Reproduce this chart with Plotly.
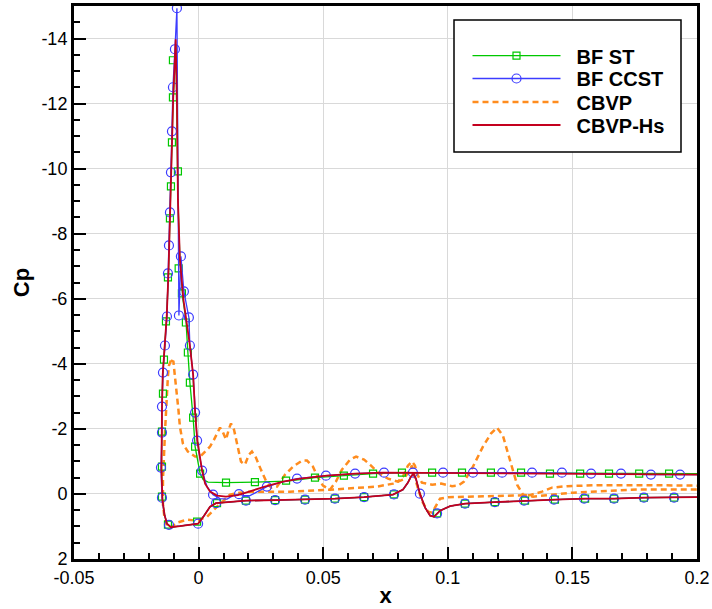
import plotly.graph_objects as go

# ---------------- data: (x, Cp) ----------------
# BF ST (green, squares)
st_line = [(0.2000,-0.625),(0.0816,-0.655),(0.0700,-0.625),(0.0583,-0.563),(0.0467,-0.502),(0.0407,-0.440),
           (0.0351,-0.394),(0.0226,-0.363),(0.0110,-0.348),(0.0038,-0.363),(0.0018,-0.440),(0.0006,-0.625),
           (-0.0014,-1.455),(-0.0022,-2.348),(-0.0035,-3.425),(-0.0043,-4.348),(-0.0051,-5.363),(-0.0063,-5.978),
           (-0.0075,-7.209),(-0.0083,-9.055),(-0.0087,-12.132),(-0.0091,-13.825),(-0.0102,-12.132),(-0.0109,-9.978),
           (-0.0115,-8.655),(-0.0121,-6.778),(-0.0128,-5.455),(-0.0137,-4.440),(-0.0144,-3.671),(-0.0147,-2.594),
           (-0.0149,-1.671),(-0.0149,-0.748),(-0.0145,0.175),(-0.0137,0.637),(-0.0127,0.914),(-0.0111,1.022),
           (-0.0075,0.991),(-0.0002,0.914),(0.0022,0.668),(0.0046,0.391),(0.0070,0.283),(0.0126,0.237),
           (0.0190,0.206),(0.0307,0.191),(0.0427,0.175),(0.0547,0.145),(0.0664,0.098),(0.0780,0.022),
           (0.0820,-0.132),(0.0840,-0.348),(0.0852,-0.532),(0.0862,-0.625),(0.0872,-0.471),(0.0888,-0.009),
           (0.0909,0.422),(0.0929,0.668),(0.0945,0.698),(0.0969,0.514),(0.1009,0.375),(0.1069,0.298),
           (0.1189,0.252),(0.1310,0.206),(0.1430,0.175),(0.1551,0.145),(0.1667,0.145),(0.1787,0.114),
           (0.1908,0.114),(0.2000,0.098)]
st_marks = [(-0.0103,-13.332),(-0.0103,-12.194),(-0.0107,-10.809),(-0.0111,-9.455),(-0.0115,-8.471),
            (-0.0123,-6.655),(-0.0131,-5.302),(-0.0139,-4.132),(-0.0143,-3.086),(-0.0147,-1.917),
            (-0.0147,-0.840),(-0.0147,0.083),(-0.0123,0.945),(-0.0006,0.852),(0.0074,0.283),(0.0190,0.206),
            (0.0307,0.191),(0.0427,0.175),(0.0547,0.145),(0.0664,0.098),(0.0784,0.015),(0.0957,0.600),
            (0.1069,0.298),(0.1189,0.252),(0.1310,0.206),(0.1430,0.175),(0.1551,0.145),(0.1667,0.145),
            (0.1787,0.114),(0.1908,0.114),
            (-0.0083,-9.917),(-0.0080,-6.932),(-0.0067,-6.163),(-0.0051,-5.271),(-0.0043,-4.348),
            (-0.0035,-3.425),(-0.0022,-2.348),(-0.0014,-1.455),(0.0006,-0.625),
            (0.0110,-0.348),(0.0226,-0.363),(0.0351,-0.409),(0.0467,-0.502),(0.0583,-0.563),(0.0700,-0.625),
            (0.0816,-0.655),(0.0937,-0.655),(0.1057,-0.655),(0.1173,-0.655),(0.1294,-0.655),(0.1410,-0.625),
            (0.1531,-0.625),(0.1647,-0.625),(0.1768,-0.625),(0.1888,-0.625)]

# BF CCST (blue, circles)
ccst_line = [(0.2000,-0.594),(0.1815,-0.594),(0.1575,-0.625),(0.1338,-0.655),(0.0981,-0.655),(0.0744,-0.655),
             (0.0628,-0.625),(0.0511,-0.563),(0.0395,-0.471),(0.0327,-0.348),(0.0274,-0.225),(0.0238,-0.071),
             (0.0206,0.052),(0.0182,0.052),(0.0162,0.006),(0.0138,0.052),(0.0114,0.160),(0.0086,0.145),
             (0.0058,0.022),(0.0034,-0.225),(0.0014,-0.717),(-0.0006,-1.640),(-0.0014,-2.502),(-0.0022,-3.671),
             (-0.0035,-4.563),(-0.0039,-5.425),(-0.0059,-6.225),(-0.0071,-7.302),(-0.0079,-5.486),(-0.0081,-9.055),
             (-0.0087,-14.932),(-0.0095,-13.671),(-0.0103,-12.502),(-0.0107,-11.148),(-0.0111,-9.886),
             (-0.0115,-8.655),(-0.0119,-7.640),(-0.0123,-6.778),(-0.0127,-5.455),(-0.0135,-4.563),
             (-0.0143,-3.732),(-0.0147,-2.686),(-0.0147,-1.886),(-0.0151,-0.809),(-0.0147,0.114),
             (-0.0139,0.560),(-0.0127,0.914),(-0.0111,1.022),(-0.0075,0.991),(-0.0002,0.914),(0.0022,0.668),
             (0.0046,0.391),(0.0070,0.283),(0.0126,0.237),(0.0190,0.206),(0.0307,0.191),(0.0427,0.175),
             (0.0547,0.145),(0.0664,0.098),(0.0780,0.022),(0.0820,-0.132),(0.0840,-0.348),(0.0852,-0.532),
             (0.0862,-0.625),(0.0872,-0.471),(0.0888,-0.009),(0.0909,0.422),(0.0929,0.668),(0.0945,0.698),
             (0.0969,0.514),(0.1009,0.375),(0.1069,0.298),(0.1189,0.252),(0.1310,0.206),(0.1430,0.175),
             (0.1551,0.145),(0.1667,0.145),(0.1787,0.114),(0.1908,0.114),(0.2000,0.098)]
ccst_marks = [(-0.0087,-14.932),(-0.0095,-13.671),(-0.0103,-12.502),(-0.0107,-11.148),(-0.0111,-9.886),
              (-0.0115,-8.655),(-0.0119,-7.640),(-0.0123,-6.778),(-0.0127,-5.455),(-0.0135,-4.563),
              (-0.0143,-3.732),(-0.0147,-2.686),(-0.0147,-1.886),(-0.0151,-0.809),(-0.0147,0.114),
              (-0.0119,0.950),(-0.0002,0.914),(0.0070,0.283),(0.0190,0.206),(0.0307,0.191),(0.0427,0.175),
              (0.0547,0.145),(0.0664,0.098),(0.0784,0.015),(0.0888,-0.009),(0.0957,0.600),(0.1069,0.298),
              (0.1189,0.252),(0.1306,0.206),(0.1426,0.175),(0.1547,0.145),(0.1667,0.145),(0.1787,0.114),
              (0.1908,0.114),
              (-0.0079,-5.486),(-0.0071,-7.302),(-0.0059,-6.225),(-0.0039,-5.425),(-0.0035,-4.563),
              (-0.0022,-3.671),(-0.0014,-2.502),(-0.0006,-1.640),(0.0014,-0.717),(0.0058,0.022),
              (0.0162,0.006),(0.0274,-0.225),(0.0395,-0.471),(0.0511,-0.563),(0.0628,-0.625),(0.0744,-0.655),
              (0.0860,-0.655),(0.0981,-0.655),(0.1101,-0.655),(0.1218,-0.655),(0.1338,-0.655),(0.1458,-0.655),
              (0.1575,-0.625),(0.1695,-0.625),(0.1815,-0.594),(0.1932,-0.594)]

# CBVP (orange dashed): upper and lower branches from the suction peak
cbvp_upper = [(-0.0111,-4.102),(-0.0101,-4.071),(-0.0095,-3.609),(-0.0087,-3.117),(-0.0081,-2.594),
              (-0.0075,-2.071),(-0.0063,-1.548),(-0.0043,-1.302),(-0.0014,-1.148),(0.0006,-1.148),
              (0.0026,-1.302),(0.0046,-1.455),(0.0062,-1.671),(0.0078,-1.948),(0.0086,-2.040),(0.0098,-1.886),
              (0.0110,-1.671),(0.0122,-2.009),(0.0130,-2.163),(0.0142,-1.978),(0.0154,-1.517),(0.0170,-0.994),
              (0.0186,-0.902),(0.0202,-1.209),(0.0214,-1.302),(0.0230,-1.117),(0.0250,-0.748),(0.0270,-0.409),
              (0.0291,-0.194),(0.0315,-0.225),(0.0347,-0.594),(0.0379,-0.840),(0.0415,-1.025),(0.0435,-1.025),
              (0.0459,-0.840),(0.0479,-0.502),(0.0499,-0.255),(0.0527,-0.132),(0.0551,-0.378),(0.0575,-0.748),
              (0.0608,-1.055),(0.0632,-1.148),(0.0664,-1.055),(0.0692,-0.871),(0.0724,-0.625),(0.0760,-0.471),
              (0.0800,-0.378),(0.0820,-0.532),(0.0840,-0.871),(0.0856,-0.994),(0.0868,-0.871),(0.0880,-0.563),
              (0.0896,-0.348),(0.0937,-0.286),(0.0973,-0.317),(0.1017,-0.240),(0.1041,-0.255),(0.1065,-0.378),
              (0.1101,-0.840),(0.1141,-1.455),(0.1173,-1.855),(0.1197,-2.040),(0.1221,-1.794),(0.1250,-1.055),
              (0.1278,-0.286),(0.1302,0.022),(0.1342,0.083),(0.1502,-0.040),(0.1639,-0.102),(0.1771,-0.140),
              (0.2000,-0.140)]
cbvp_lower = [(-0.0111,-4.102),(-0.0119,-3.948),(-0.0123,-3.640),(-0.0127,-3.148),(-0.0131,-2.594),
              (-0.0135,-1.886),(-0.0139,-1.148),(-0.0143,-0.440),(-0.0143,0.329),(-0.0137,0.729),
              (-0.0127,0.975),(-0.0111,1.037),(-0.0087,0.883),(-0.0047,0.791),(-0.0006,0.822),(0.0034,0.698),
              (0.0074,0.391),(0.0098,0.206),(0.0126,0.022),(0.0166,-0.040),(0.0206,-0.071),(0.0287,-0.071),
              (0.0367,-0.071),(0.0527,-0.132),(0.0608,-0.178),(0.0716,-0.225),(0.0780,-0.317),(0.0820,-0.440),
              (0.0844,-0.686),(0.0856,-0.871),(0.0868,-0.502),(0.0884,-0.071),(0.0900,0.268),(0.0921,0.545),
              (0.0937,0.575),(0.0953,0.360),(0.0969,0.145),(0.1001,0.098),(0.1101,0.083),(0.1238,0.052),
              (0.1330,0.037),(0.1378,-0.071),(0.1418,-0.194),(0.1478,-0.240),(0.1611,-0.271),(0.1771,-0.271),
              (0.2000,-0.255)]

# CBVP-Hs (red)
hs_line = [(0.2000,-0.594),(0.1771,-0.609),(0.1531,-0.625),(0.1290,-0.640),(0.1049,-0.655),(0.0860,-0.655),
           (0.0740,-0.655),(0.0628,-0.625),(0.0515,-0.563),(0.0407,-0.471),(0.0339,-0.378),(0.0266,-0.225),
           (0.0206,-0.071),(0.0158,0.037),(0.0110,0.083),(0.0074,0.052),(0.0046,-0.071),(0.0026,-0.317),
           (0.0014,-0.717),(-0.0005,-1.640),(-0.0014,-2.502),(-0.0022,-3.671),(-0.0035,-4.563),(-0.0051,-5.363),
           (-0.0061,-5.978),(-0.0075,-7.209),(-0.0083,-9.055),(-0.0087,-12.132),(-0.0092,-13.978),
           (-0.0102,-12.132),(-0.0109,-9.978),(-0.0115,-8.655),(-0.0121,-6.778),(-0.0128,-5.455),
           (-0.0137,-4.440),(-0.0144,-3.671),(-0.0147,-2.594),(-0.0149,-1.671),(-0.0149,-0.748),
           (-0.0145,0.175),(-0.0137,0.637),(-0.0127,0.914),(-0.0111,1.022),(-0.0075,0.991),(-0.0002,0.914),
           (0.0022,0.668),(0.0046,0.391),(0.0070,0.283),(0.0126,0.237),(0.0190,0.206),(0.0307,0.191),
           (0.0427,0.175),(0.0547,0.145),(0.0664,0.098),(0.0780,0.022),(0.0820,-0.132),(0.0840,-0.348),
           (0.0852,-0.532),(0.0862,-0.625),(0.0872,-0.471),(0.0888,-0.009),(0.0909,0.422),(0.0929,0.668),
           (0.0945,0.698),(0.0969,0.514),(0.1009,0.375),(0.1069,0.298),(0.1189,0.252),(0.1310,0.206),
           (0.1430,0.175),(0.1551,0.145),(0.1667,0.145),(0.1787,0.114),(0.1908,0.114),(0.2000,0.098)]

x_ticks = [-0.05, 0, 0.05, 0.1, 0.15, 0.2]
x_ticktext = ["-0.05", "0", "0.05", "0.1", "0.15", "0.2"]
y_ticks = [2, 0, -2, -4, -6, -8, -10, -12, -14]
y_ticktext = ["2", "0", "-2", "-4", "-6", "-8", "-10", "-12", "-14"]

names = ["BF ST", "BF CCST", "CBVP", "CBVP-Hs"]
# ------------------------------------------------

GREEN, BLUE, ORANGE, RED = "#00c800", "#3c3cff", "#ff8c1e", "#c4001e"
FONT = "Liberation Sans, Arial, sans-serif"
NB = "\u00a0\u00a0"

def xs(p):
    return [a for a, _ in p]

def ys(p):
    return [b for _, b in p]

fig = go.Figure()
dash = "6px,4px"

fig.add_trace(go.Scatter(x=xs(cbvp_upper), y=ys(cbvp_upper), mode="lines", showlegend=False,
                         line=dict(color=ORANGE, width=2.5, dash=dash)))
fig.add_trace(go.Scatter(x=xs(cbvp_lower), y=ys(cbvp_lower), mode="lines", showlegend=False,
                         line=dict(color=ORANGE, width=2.5, dash=dash)))
fig.add_trace(go.Scatter(x=xs(st_line), y=ys(st_line), mode="lines", showlegend=False,
                         line=dict(color=GREEN, width=1.3)))
fig.add_trace(go.Scatter(x=xs(st_marks), y=ys(st_marks), mode="markers", showlegend=False,
                         marker=dict(symbol="square-open", size=7, color=GREEN, line=dict(width=1.2, color=GREEN))))
fig.add_trace(go.Scatter(x=xs(ccst_line), y=ys(ccst_line), mode="lines", showlegend=False,
                         line=dict(color=BLUE, width=1.3)))
fig.add_trace(go.Scatter(x=xs(ccst_marks), y=ys(ccst_marks), mode="markers", showlegend=False,
                         marker=dict(symbol="circle-open", size=9, color=BLUE, line=dict(width=1.2, color=BLUE))))
fig.add_trace(go.Scatter(x=xs(hs_line), y=ys(hs_line), mode="lines", showlegend=False,
                         line=dict(color=RED, width=1.8)))

# legend entries (one small legend per entry for exact spacing)
fig.add_trace(go.Scatter(x=[None], y=[None], mode="lines+markers", name=NB + names[0], legend="legend",
                         line=dict(color=GREEN, width=1.3),
                         marker=dict(symbol="square-open", size=7, color=GREEN, line=dict(width=1.2, color=GREEN))))
fig.add_trace(go.Scatter(x=[None], y=[None], mode="lines+markers", name=NB + names[1], legend="legend2",
                         line=dict(color=BLUE, width=1.3),
                         marker=dict(symbol="circle-open", size=9, color=BLUE, line=dict(width=1.2, color=BLUE))))
fig.add_trace(go.Scatter(x=[None], y=[None], mode="lines", name=NB + names[2], legend="legend3",
                         line=dict(color=ORANGE, width=2.5, dash=dash)))
fig.add_trace(go.Scatter(x=[None], y=[None], mode="lines", name=NB + names[3], legend="legend4",
                         line=dict(color=RED, width=1.8)))

axis_common = dict(
    showline=True, linecolor="black", linewidth=3, mirror=True,
    ticks="inside", ticklen=12, tickwidth=2, tickcolor="black",
    showgrid=True, gridcolor="#d9d9d9", gridwidth=1, zeroline=False,
    tickfont=dict(family=FONT, size=18, color="black"),
    tickmode="array", automargin=False,
)

def leg(ypix):
    return dict(x=(467.5 - 74) / 623, y=(559 - ypix) / 553, xanchor="left", yanchor="middle",
                bgcolor="rgba(0,0,0,0)", borderwidth=0, itemwidth=88,
                font=dict(family=FONT, size=20, color="black", weight="bold"))

fig.update_layout(
    width=712, height=609,
    margin=dict(l=74, r=15, t=6, b=50),
    paper_bgcolor="white", plot_bgcolor="white",
    font=dict(family=FONT, color="black"),
    xaxis=dict(range=[-0.05, 0.2], tickvals=x_ticks, ticktext=x_ticktext,
               minor=dict(tickmode="linear", tick0=0, dtick=0.01, ticks="inside", ticklen=6,
                          tickwidth=1.5, tickcolor="black", showgrid=False),
               title=dict(text="x", font=dict(family=FONT, size=22, color="black", weight="bold"), standoff=2),
               **axis_common),
    yaxis=dict(range=[2, -15], tickvals=y_ticks, ticktext=y_ticktext,
               minor=dict(tickmode="linear", tick0=0, dtick=0.5, ticks="inside", ticklen=6,
                          tickwidth=1.5, tickcolor="black", showgrid=False),
               title=dict(text="Cp", font=dict(family=FONT, size=22, color="black", weight="bold"), standoff=6),
               **axis_common),
    legend=leg(55.7), legend2=leg(78.5), legend3=leg(102), legend4=leg(125),
    shapes=[dict(type="rect", xref="paper", yref="paper", x0=(454 - 74) / 623, x1=(681 - 74) / 623,
                 y0=(559 - 152) / 553, y1=(559 - 20) / 553,
                 line=dict(color="black", width=1.5), fillcolor="white", layer="above")],
    showlegend=True,
)

fig.write_html("out.html", config={"displayModeBar": False},
               post_script="document.body.style.margin='0';")
